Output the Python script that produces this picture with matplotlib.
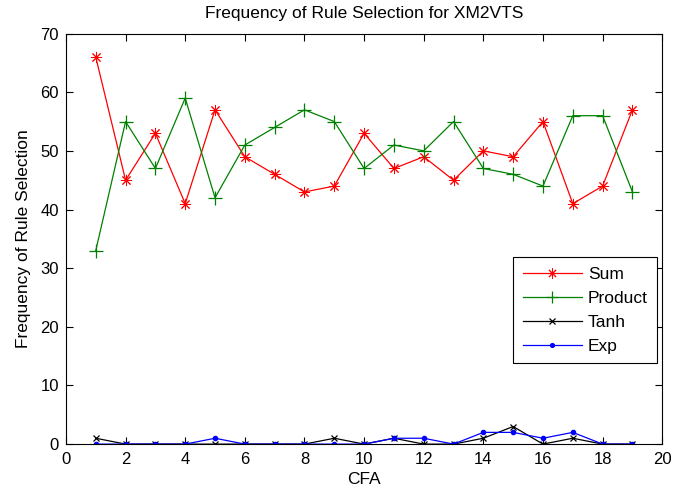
import matplotlib
matplotlib.use("Agg")
import matplotlib.pyplot as plt

plt.rcParams['font.family'] = ['Liberation Sans', 'DejaVu Sans']

cfa = list(range(1, 20))
sum_rule = [66, 45, 53, 41, 57, 49, 46, 43, 44, 53, 47, 49, 45, 50, 49, 55, 41, 44, 57]
product_rule = [33, 55, 47, 59, 42, 51, 54, 57, 55, 47, 51, 50, 55, 47, 46, 44, 56, 56, 43]
tanh_rule = [1, 0, 0, 0, 0, 0, 0, 0, 1, 0, 1, 0, 0, 1, 3, 0, 1, 0, 0]
exp_rule = [0, 0, 0, 0, 1, 0, 0, 0, 0, 0, 1, 1, 0, 2, 2, 1, 2, 0, 0]

fig = plt.figure(figsize=(6.73, 4.94), dpi=100)
ax = fig.add_axes([0.098, 0.101, 0.886, 0.831])

ax.plot(cfa, sum_rule, color='#ff0000', lw=0.9, marker=(8, 2, 0), ms=8, mew=0.7, label='Sum')
ax.plot(cfa, product_rule, color='#008000', lw=0.9, marker='+', ms=10, mew=0.9, label='Product')
ax.plot(cfa, tanh_rule, color='#000000', lw=0.9, marker='x', ms=5, mew=0.9, label='Tanh')
ax.plot(cfa, exp_rule, color='#0000ff', lw=0.9, marker='.', ms=6, label='Exp')

ax.set_xlim(0, 20)
ax.set_ylim(0, 70)
ax.set_xticks(range(0, 21, 2))
ax.set_yticks(range(0, 71, 10))
ax.tick_params(direction='in', top=True, right=True, labelsize=12, length=5, width=0.8)
ax.tick_params(axis='x', pad=6)
ax.tick_params(axis='y', pad=5)
for s in ax.spines.values():
    s.set_linewidth(0.8)

ax.set_title('Frequency of Rule Selection for XM2VTS', fontsize=12.5, pad=11)
ax.set_xlabel('CFA', fontsize=12.5, labelpad=3)
ax.set_ylabel('Frequency of Rule Selection', fontsize=12.5, labelpad=7)

leg = ax.legend(loc='lower right', bbox_to_anchor=(0.992, 0.197), fontsize=12.5,
                frameon=True, fancybox=False, edgecolor='black', framealpha=1,
                handlelength=3.4, borderpad=0.55, labelspacing=0.5, handletextpad=0.35,
                borderaxespad=0.0, markerscale=0.9)
leg.get_frame().set_linewidth(0.8)

fig.savefig('out.png', dpi=100)
